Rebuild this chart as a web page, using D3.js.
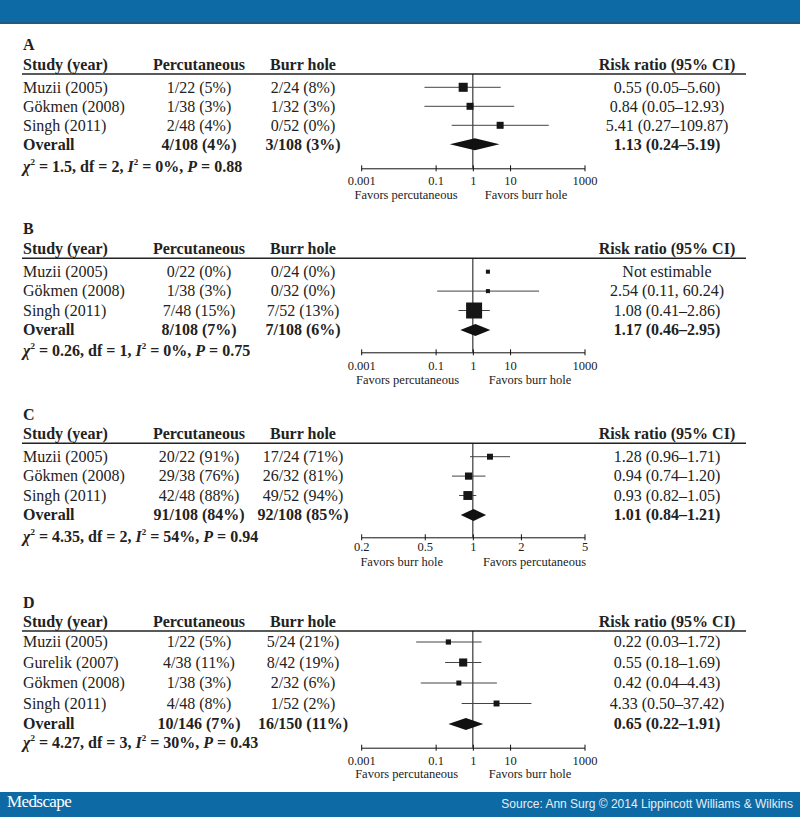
<!DOCTYPE html>
<html><head><meta charset="utf-8">
<script src="https://cdn.jsdelivr.net/npm/d3@7"></script>
<style>
html,body{margin:0;padding:0;background:#fff;}
svg{display:block;}
text{font-family:"Liberation Serif","Times New Roman",serif;fill:#222;}
</style></head><body>
<script>
// ---------- DATA ----------
const panelLabels = ["A", "B", "C", "D"];
const columnHeaders = ["Study (year)", "Percutaneous", "Burr hole", "Risk ratio (95% CI)"];

// Panel A
const studiesA = ["Muzii (2005)", "Gökmen (2008)", "Singh (2011)"];
const percA = ["1/22 (5%)", "1/38 (3%)", "2/48 (4%)"];
const burrA = ["2/24 (8%)", "1/32 (3%)", "0/52 (0%)"];
const rrA = [0.55, 0.84, 5.41];
const loA = [0.05, 0.05, 0.27];
const hiA = [5.60, 12.93, 109.87];
const ciTextA = ["0.55 (0.05–5.60)", "0.84 (0.05–12.93)", "5.41 (0.27–109.87)"];
const weightA = [30, 18, 18];
const overallA = {perc: "4/108 (4%)", burr: "3/108 (3%)", rr: 1.13, lo: 0.24, hi: 5.19, text: "1.13 (0.24–5.19)"};
const statsA = {chi: "1.5", df: "2", i2: "0%", p: "0.88"};

// Panel B
const studiesB = ["Muzii (2005)", "Gökmen (2008)", "Singh (2011)"];
const percB = ["0/22 (0%)", "1/38 (3%)", "7/48 (15%)"];
const burrB = ["0/24 (0%)", "0/32 (0%)", "7/52 (13%)"];
const rrB = [2.54, 2.54, 1.08];
const loB = [null, 0.11, 0.41];
const hiB = [null, 60.24, 2.86];
const ciTextB = ["Not estimable", "2.54 (0.11, 60.24)", "1.08 (0.41–2.86)"];
const weightB = [6, 6, 94];
const overallB = {perc: "8/108 (7%)", burr: "7/108 (6%)", rr: 1.17, lo: 0.46, hi: 2.95, text: "1.17 (0.46–2.95)"};
const statsB = {chi: "0.26", df: "1", i2: "0%", p: "0.75"};

// Panel C
const studiesC = ["Muzii (2005)", "Gökmen (2008)", "Singh (2011)"];
const percC = ["20/22 (91%)", "29/38 (76%)", "42/48 (88%)"];
const burrC = ["17/24 (71%)", "26/32 (81%)", "49/52 (94%)"];
const rrC = [1.28, 0.94, 0.93];
const loC = [0.96, 0.74, 0.82];
const hiC = [1.71, 1.20, 1.05];
const ciTextC = ["1.28 (0.96–1.71)", "0.94 (0.74–1.20)", "0.93 (0.82–1.05)"];
const weightC = [13, 19, 29];
const overallC = {perc: "91/108 (84%)", burr: "92/108 (85%)", rr: 1.01, lo: 0.84, hi: 1.21, text: "1.01 (0.84–1.21)"};
const statsC = {chi: "4.35", df: "2", i2: "54%", p: "0.94"};

// Panel D
const studiesD = ["Muzii (2005)", "Gurelik (2007)", "Gökmen (2008)", "Singh (2011)"];
const percD = ["1/22 (5%)", "4/38 (11%)", "1/38 (3%)", "4/48 (8%)"];
const burrD = ["5/24 (21%)", "8/42 (19%)", "2/32 (6%)", "1/52 (2%)"];
const rrD = [0.22, 0.55, 0.42, 4.33];
const loD = [0.03, 0.18, 0.04, 0.50];
const hiD = [1.72, 1.69, 4.43, 37.42];
const ciTextD = ["0.22 (0.03–1.72)", "0.55 (0.18–1.69)", "0.42 (0.04–4.43)", "4.33 (0.50–37.42)"];
const weightD = [10, 24, 9, 13];
const overallD = {perc: "10/146 (7%)", burr: "16/150 (11%)", rr: 0.65, lo: 0.22, hi: 1.91, text: "0.65 (0.22–1.91)"};
const statsD = {chi: "4.27", df: "3", i2: "30%", p: "0.43"};

// Axes
const ticksWide = [0.001, 0.1, 1, 10, 1000];
const ticksNarrow = [0.2, 0.5, 1, 2, 5];
const favorsAB = ["Favors percutaneous", "Favors burr hole"];
const favorsC = ["Favors burr hole", "Favors percutaneous"];
const footerBrand = "Medscape";
const footerSource = "Source: Ann Surg © 2014 Lippincott Williams & Wilkins";

// ---------- BUILD ----------
const panels = [
  {label: panelLabels[0], studies: studiesA, perc: percA, burr: burrA, rr: rrA, lo: loA, hi: hiA, ci: ciTextA, w: weightA, overall: overallA, stats: statsA, ticks: ticksWide, favors: favorsAB},
  {label: panelLabels[1], studies: studiesB, perc: percB, burr: burrB, rr: rrB, lo: loB, hi: hiB, ci: ciTextB, w: weightB, overall: overallB, stats: statsB, ticks: ticksWide, favors: favorsAB},
  {label: panelLabels[2], studies: studiesC, perc: percC, burr: burrC, rr: rrC, lo: loC, hi: hiC, ci: ciTextC, w: weightC, overall: overallC, stats: statsC, ticks: ticksNarrow, favors: favorsC},
  {label: panelLabels[3], studies: studiesD, perc: percD, burr: burrD, rr: rrD, lo: loD, hi: hiD, ci: ciTextD, w: weightD, overall: overallD, stats: statsD, ticks: ticksWide, favors: favorsAB}
];

// layout (positions only)
const layouts = [
  {label: 50, line: 74, row0: 87.3, step: 19, axis: 168.3, stats: 172, tickY: 185, favY: 198.5, favL: 406, favR: 526},
  {label: 234, line: 258.3, row0: 271.7, step: 19.4, axis: 352.3, stats: 355.5, tickY: 369.7, favY: 383.5, favL: 407.5, favR: 530},
  {label: 420, line: 443.3, row0: 456.7, step: 19.4, axis: 537.3, stats: 541.7, tickY: 551, favY: 565.5, favL: 401.7, favR: 534.5},
  {label: 608, line: 631, row0: 642, step: 20.5, axis: 747.7, stats: 748, tickY: 764.7, favY: 778, favL: 406.7, favR: 530}
];

const W = 800, H = 817;
const colStudy = 23, colPerc = 199, colBurr = 303, colRR = 667, lineL = 22, lineR = 746;
const X0 = 361.2, X1 = 584.5;

const svg = d3.select("body").append("svg").attr("width", W).attr("height", H);
svg.append("rect").attr("width", W).attr("height", H).attr("fill", "#fff");

// header bar
svg.append("rect").attr("x", 0).attr("y", 0).attr("width", W).attr("height", 24).attr("fill", "#0e6aa5");
svg.append("rect").attr("x", 0).attr("y", 22).attr("width", W).attr("height", 2).attr("fill", "#1d5d80");

const sizeScale = d3.scaleSqrt().domain([0, 100]).range([0, 16.5]);

panels.forEach((p, pi) => {
  const L = layouts[pi];
  const g = svg.append("g");
  const x = d3.scaleLog().domain([p.ticks[0], p.ticks[p.ticks.length - 1]]).range([X0, X1]);
  const rowY = i => L.row0 + i * L.step;
  const n = p.studies.length;

  g.append("text").attr("x", colStudy).attr("y", L.label).attr("font-size", 16).attr("font-weight", "bold").text(p.label);

  const hy = L.line - 4;
  g.append("text").attr("x", colStudy).attr("y", hy).attr("font-size", 16).attr("font-weight", "bold").text(columnHeaders[0]);
  g.append("text").attr("x", colPerc).attr("y", hy).attr("text-anchor", "middle").attr("font-size", 16).attr("font-weight", "bold").text(columnHeaders[1]);
  g.append("text").attr("x", colBurr).attr("y", hy).attr("text-anchor", "middle").attr("font-size", 16).attr("font-weight", "bold").text(columnHeaders[2]);
  g.append("text").attr("x", colRR).attr("y", hy).attr("text-anchor", "middle").attr("font-size", 16).attr("font-weight", "bold").text(columnHeaders[3]);
  g.append("line").attr("x1", lineL).attr("x2", lineR).attr("y1", L.line).attr("y2", L.line).attr("stroke", "#222").attr("stroke-width", 1.6);

  p.studies.forEach((s, i) => {
    const ty = rowY(i) + 5.3;
    g.append("text").attr("x", colStudy).attr("y", ty).attr("font-size", 16).text(s);
    g.append("text").attr("x", colPerc).attr("y", ty).attr("text-anchor", "middle").attr("font-size", 16).text(p.perc[i]);
    g.append("text").attr("x", colBurr).attr("y", ty).attr("text-anchor", "middle").attr("font-size", 16).text(p.burr[i]);
    g.append("text").attr("x", colRR).attr("y", ty).attr("text-anchor", "middle").attr("font-size", 16).text(p.ci[i]);
  });
  const oy = rowY(n) + 5.3;
  g.append("text").attr("x", colStudy).attr("y", oy).attr("font-size", 16).attr("font-weight", "bold").text("Overall");
  g.append("text").attr("x", colPerc).attr("y", oy).attr("text-anchor", "middle").attr("font-size", 16).attr("font-weight", "bold").text(p.overall.perc);
  g.append("text").attr("x", colBurr).attr("y", oy).attr("text-anchor", "middle").attr("font-size", 16).attr("font-weight", "bold").text(p.overall.burr);
  g.append("text").attr("x", colRR).attr("y", oy).attr("text-anchor", "middle").attr("font-size", 16).attr("font-weight", "bold").text(p.overall.text);

  const st = g.append("text").attr("x", colStudy).attr("y", L.stats).attr("font-size", 16).attr("font-weight", "bold");
  st.append("tspan").attr("font-style", "italic").text("χ");
  st.append("tspan").attr("font-size", 9).attr("dy", -7).text("2");
  st.append("tspan").attr("dy", 7).text(" = " + p.stats.chi + ", df = " + p.stats.df + ", ");
  st.append("tspan").attr("font-style", "italic").text("I");
  st.append("tspan").attr("font-size", 9).attr("dy", -7).text("2");
  st.append("tspan").attr("dy", 7).text(" = " + p.stats.i2 + ", ");
  st.append("tspan").attr("font-style", "italic").text("P");
  st.append("tspan").text(" = " + p.stats.p);

  g.append("line").attr("x1", x(1)).attr("x2", x(1)).attr("y1", L.line).attr("y2", L.axis).attr("stroke", "#111").attr("stroke-width", 1);

  p.studies.forEach((s, i) => {
    const cy = rowY(i);
    if (p.lo[i] != null) {
      g.append("line").attr("x1", x(p.lo[i])).attr("x2", x(p.hi[i])).attr("y1", cy).attr("y2", cy).attr("stroke", "#444").attr("stroke-width", 1);
    }
    const sz = sizeScale(p.w[i]);
    g.append("rect").attr("x", x(p.rr[i]) - sz / 2).attr("y", cy - sz / 2).attr("width", sz).attr("height", sz).attr("fill", "#161616");
  });
  const dy = rowY(n), dh = 6;
  g.append("path").attr("d", `M${x(p.overall.lo)},${dy} L${x(p.overall.rr)},${dy - dh} L${x(p.overall.hi)},${dy} L${x(p.overall.rr)},${dy + dh} Z`).attr("fill", "#111");

  const ax = g.append("g").attr("transform", `translate(0,${L.axis})`)
    .call(d3.axisBottom(x).tickValues(p.ticks).tickFormat(d => String(d)).tickSizeOuter(0).tickSizeInner(3));
  ax.select(".domain").attr("stroke", "#111");
  ax.selectAll(".tick line").attr("y1", -3).attr("y2", 3).attr("stroke", "#111");
  ax.selectAll(".tick text").attr("font-family", "Liberation Serif").attr("font-size", 12.5).attr("fill", "#333")
    .attr("dy", null).attr("y", L.tickY - L.axis);

  g.append("text").attr("x", L.favL).attr("y", L.favY).attr("text-anchor", "middle").attr("font-size", 12.5).attr("fill", "#333").text(p.favors[0]);
  g.append("text").attr("x", L.favR).attr("y", L.favY).attr("text-anchor", "middle").attr("font-size", 12.5).attr("fill", "#333").text(p.favors[1]);
});

// footer
svg.append("rect").attr("x", 0).attr("y", 792).attr("width", W).attr("height", H - 792).attr("fill", "#0e6aa5");
svg.append("text").attr("x", 7).attr("y", 807).attr("font-size", 17).attr("letter-spacing", -0.6).style("fill", "#fff").text(footerBrand);
svg.append("text").attr("x", 793).attr("y", 808).attr("text-anchor", "end").attr("font-size", 12)
  .style("font-family", "'Liberation Sans', Arial, sans-serif").style("fill", "#e6eef5").text(footerSource);
</script>
</body></html>
